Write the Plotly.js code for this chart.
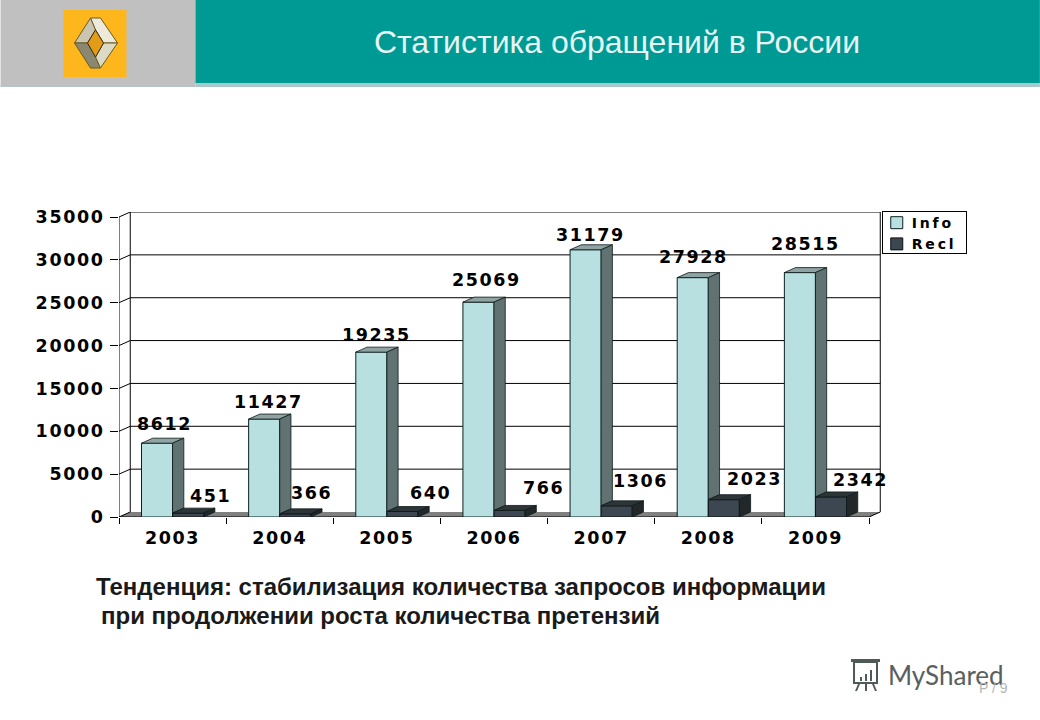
<!DOCTYPE html>
<html><head><meta charset="utf-8">
<script src="https://cdn.plot.ly/plotly-3.0.1.min.js"></script>
<style>
html,body{margin:0;padding:0;background:#fff}
.xtick text,.ytick text{letter-spacing:1.6px}
.legendtext{letter-spacing:2.8px;transform:translate(-11px,-5px)}
.legendpoints{transform:translate(-6px,-5px)}
.legend rect.bg{width:84px;height:42px}
</style></head><body><div id="chart" style="width:1040px;height:720px"></div>
<script>
const years=['2003','2004','2005','2006','2007','2008','2009'];
const infoValues=[8612,11427,19235,25069,31179,27928,28515];
const reclValues=[451,366,640,766,1306,2023,2342];
const yTicks=[0,5000,10000,15000,20000,25000,30000,35000];
const infoShiftX=[7,4,5,8.5,5,1,5.6], infoShiftY=[19,17,17,22,15,20.6,28.6];
const reclShiftX=[22,16,27.7,33.5,24,30.4,29.6], reclShiftY=[17,21,19,22,25,20.4,16.6];

const L=118.5,R=881,T=212,B=517,W=1040,H=720;
const px=x=>(x-L)/(R-L), py=y=>1-(y-T)/(B-T);
const XMAX=7.112,YMAX=35583;
const DX=0.105,DY=583,BW=0.29,GAP=0.21;
const positions=years.map((_,i)=>i+0.5);
const LF='"DejaVu Sans",sans-serif';

function faces(vals,start){
  const top={x:[],y:[]},side={x:[],y:[]};
  vals.forEach((v,i)=>{
    const a=i+start,b=a+BW;
    top.x.push(a,b,b+DX,a+DX,a,null);top.y.push(v,v,v+DY,v+DY,v,null);
    side.x.push(b,b+DX,b+DX,b,b,null);side.y.push(0,DY,v+DY,v,0,null);
  });
  return {top,side};
}
// Info side stops at the top of the neighbouring Recl block
const fi=faces(infoValues,GAP);
const infoSide={x:[],y:[]};
infoValues.forEach((v,i)=>{const b=i+GAP+BW,r=reclValues[i];
  infoSide.x.push(b,b+DX,b+DX,b,b,null);infoSide.y.push(r,r+DY,v+DY,v,r,null);});
const fr=faces(reclValues,GAP+BW);
const poly=(d,c)=>({x:d.x,y:d.y,mode:'lines',fill:'toself',fillcolor:c,line:{color:'#0c1a1a',width:0.8},showlegend:false,hoverinfo:'skip',type:'scatter'});
const traces=[
 {type:'bar',name:'Info',x:positions,y:infoValues,marker:{color:'#b9e0e1',line:{color:'#0c2020',width:1}}},
 {type:'bar',name:'Recl',x:positions,y:reclValues,marker:{color:'#3d4751',line:{color:'#0c1010',width:1}}},
 poly(fi.top,'#8fa3a2'),poly(infoSide,'#607271'),poly(fr.top,'#2e3538'),poly(fr.side,'#22282a')
];

const line=(x0,y0,x1,y1,w)=>({type:'line',xref:'x',yref:'y',x0,y0,x1,y1,layer:'below',line:{color:'#000',width:w||1}});
const rectP=(x0,y0,x1,y1,c)=>({type:'rect',xref:'paper',yref:'paper',x0:px(x0),x1:px(x1),y0:py(y0),y1:py(y1),fillcolor:c,line:{width:0},layer:'below'});
const pathP=(pts,c,lc)=>({type:'path',xref:'paper',yref:'paper',layer:'below',fillcolor:c,line:{color:lc||c,width:lc?1:0},
  path:pts.map((p,i)=>(i?'L':'M')+px(p[0])+','+py(p[1])).join(' ')+' Z'});
const shapes=[
 rectP(0,0,195,86,'#c0c0c0'),rectP(195,83,1040,87,'#a9c8cb'),rectP(0,85,195,87,'#b4c4c6'),rectP(195,0,1040,83,'#009a95'),
 rectP(63,10,126,77,'#fdb71c'),
 pathP([[90,18],[100,18],[117,43],[103,43],[95,30]],'#eeeadb','#6b5a20'),
 pathP([[90,18],[74,43],[87,43],[95,30]],'#c9c5b2','#6b5a20'),
 pathP([[74,43],[90,68],[100,68],[95,57],[87,43]],'#8a8870','#6b5a20'),
 pathP([[117,43],[100,68],[95,57],[103,43]],'#dcd9c4','#6b5a20'),
 pathP([[95,30],[103,43],[95,57],[87,43]],'#e29c18','#3a2c10'),
 {type:'path',xref:'x',yref:'y',layer:'below',fillcolor:'#808080',line:{width:0},path:`M0,0 L7,0 L${7+DX},${DY} L${DX},${DY} Z`}
];
yTicks.forEach(v=>{ if(v>0) shapes.push(line(DX,v+DY,7+DX,v+DY)); shapes.push(line(0,v,DX,v+DY)); });
shapes.push(line(DX,DY,DX,35000+DY),line(7+DX,DY,7+DX,35000+DY),line(0,0,0,35000),line(0,0,7,0),line(7,0,7+DX,DY));
// MyShared mark
const G='#4e5a58';
shapes.push(
 {type:'rect',xref:'paper',yref:'paper',layer:'below',x0:px(854),x1:px(877),y0:py(662),y1:py(683),fillcolor:'rgba(0,0,0,0)',line:{color:G,width:2}},
 rectP(851,659,880,662,G),rectP(860,677,862,681,G),rectP(865,674,867,681,G),rectP(870,670,872,681,G),
 pathP([[858,684],[860,684],[857,691],[855,691]],G),rectP(865,684,867,691,G),pathP([[872,684],[874,684],[877,691],[875,691]],G)
);

const anns=[];
const num=(x,y,t,sx,sy)=>({x,y,xref:'x',yref:'y',text:`<span style="letter-spacing:1.6px">${t}</span>`,showarrow:false,xanchor:'center',yanchor:'middle',xshift:sx,yshift:sy,
  font:{family:LF,size:17.5,color:'#000',weight:700}});
infoValues.forEach((v,i)=>anns.push(num(i+GAP+BW/2,v,v,infoShiftX[i],infoShiftY[i])));
reclValues.forEach((v,i)=>anns.push(num(i+GAP+BW*1.5,v,v,reclShiftX[i],reclShiftY[i])));
const note=(x,y,t,size,color,family,weight)=>({xref:'paper',yref:'paper',x:px(x),y:py(y),text:t,showarrow:false,xanchor:'left',yanchor:'middle',
  font:{family,size,color,weight:weight||400}});
const LS='"Liberation Sans",Arial,sans-serif';
anns.push(note(93,586,'Тенденция: стабилизация количества запросов информации',24,'#1a1a1a',LS,700));
anns.push(note(98,615,'при продолжении роста количества претензий',24,'#1a1a1a',LS,700));
anns.push(note(886,675,'MyShared',26,'#58605f','Lato,"Open Sans",sans-serif'));
anns.push(note(977,688,'P / 9',14,'#b5b5b5',LS));

const layout={
 width:W,height:H,paper_bgcolor:'#fff',plot_bgcolor:'rgba(0,0,0,0)',
 margin:{l:L,r:W-R,t:T,b:H-B,pad:0},
 barmode:'group',bargap:0.42,bargroupgap:0,
 title:{text:'Статистика обращений в России',x:617/W,y:1-42/H,xref:'container',yref:'container',xanchor:'center',yanchor:'middle',
   font:{family:LS,size:32,color:'#e8f4f4'}},
 xaxis:{range:[0,XMAX],tickmode:'array',tickvals:positions,ticktext:years,ticks:'',showgrid:false,zeroline:false,showline:false,
   ticklabelstandoff:8,tickfont:{family:LF,size:17.5,color:'#000',weight:700},
   minor:{tickmode:'array',tickvals:[0,1,2,3,4,5,6,7],ticks:'outside',ticklen:6,tickcolor:'#000',tickwidth:1,showgrid:false}},
 yaxis:{range:[0,YMAX],tickmode:'array',tickvals:yTicks,ticktext:yTicks.map(String),ticks:'outside',ticklen:8,tickcolor:'#000',tickwidth:1,
   showgrid:false,zeroline:false,showline:false,ticklabelstandoff:2,tickfont:{family:LF,size:17.5,color:'#000',weight:700}},
 legend:{x:1.001,y:1.003,xanchor:'left',yanchor:'top',bgcolor:'#fff',bordercolor:'#000',borderwidth:1,
   font:{family:LF,size:14,color:'#000',weight:700},itemwidth:30,traceorder:'normal'},
 shapes,annotations:anns,hovermode:false
};
Plotly.newPlot('chart',traces,layout,{displayModeBar:false,responsive:false});
</script></body></html>
